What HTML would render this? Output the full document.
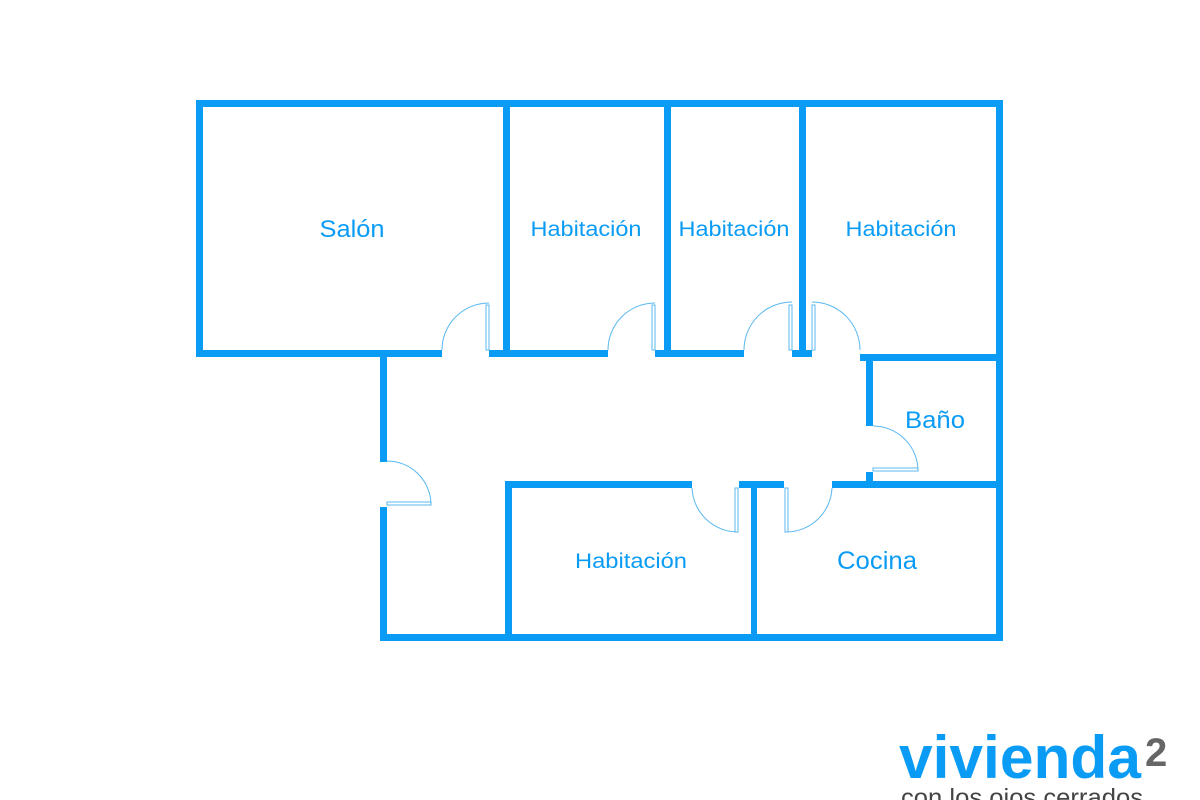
<!DOCTYPE html>
<html><head><meta charset="utf-8"><style>
html,body{margin:0;padding:0;background:#fff;width:1200px;height:800px;overflow:hidden}
svg{display:block}
</style></head><body>
<svg width="1200" height="800" viewBox="0 0 1200 800" xmlns="http://www.w3.org/2000/svg">
<g fill="#0a9cf5">
<rect x="196" y="100" width="807" height="7"/>
<rect x="196" y="100" width="7" height="257"/>
<rect x="196" y="350" width="246" height="7"/>
<rect x="489" y="350" width="119" height="7"/>
<rect x="655" y="350" width="89" height="7"/>
<rect x="792" y="350" width="20" height="7"/>
<rect x="503" y="100" width="7" height="257"/>
<rect x="664" y="100" width="7" height="257"/>
<rect x="799" y="100" width="7" height="257"/>
<rect x="996" y="100" width="7" height="541"/>
<rect x="860" y="354" width="143" height="7"/>
<rect x="866" y="354" width="7" height="72"/>
<rect x="866" y="472" width="7" height="16"/>
<rect x="505" y="481" width="187" height="7"/>
<rect x="739" y="481" width="45" height="7"/>
<rect x="832" y="481" width="171" height="7"/>
<rect x="505" y="481" width="7" height="160"/>
<rect x="751" y="481" width="6" height="160"/>
<rect x="380" y="634" width="623" height="7"/>
<rect x="380" y="350" width="7" height="112"/>
<rect x="380" y="507" width="7" height="134"/>
</g>
<g fill="none" stroke="#5ab8f0" stroke-width="1">
<rect x="486" y="305" width="3" height="45"/>
<path d="M442 350 A47 47 0 0 1 489 303"/>
<rect x="652" y="305" width="3" height="45"/>
<path d="M608 350 A47 47 0 0 1 655 303"/>
<rect x="789" y="305" width="3" height="45"/>
<path d="M744 350 A48 48 0 0 1 792 302"/>
<rect x="812" y="305" width="3" height="45"/>
<path d="M860 350 A48 48 0 0 0 812 302"/>
<rect x="873" y="468" width="45" height="3"/>
<path d="M873 426 A45 45 0 0 1 918 471"/>
<rect x="387" y="502" width="44" height="3"/>
<path d="M387 461 A44 44 0 0 1 431 505"/>
<rect x="735" y="488" width="3" height="44"/>
<path d="M692 488 A46 46 0 0 0 738 532"/>
<rect x="785" y="488" width="3" height="44"/>
<path d="M832 488 A46 46 0 0 1 786 532"/>
</g>
<g fill="#0a9cf5" font-family="Liberation Sans, sans-serif" text-anchor="middle">
<text x="352" y="237" font-size="24" textLength="65" lengthAdjust="spacingAndGlyphs">Salón</text>
<text x="586" y="236" font-size="21" textLength="111" lengthAdjust="spacingAndGlyphs">Habitación</text>
<text x="734" y="236" font-size="21" textLength="111" lengthAdjust="spacingAndGlyphs">Habitación</text>
<text x="901" y="236" font-size="21" textLength="111" lengthAdjust="spacingAndGlyphs">Habitación</text>
<text x="935" y="428" font-size="24" textLength="60" lengthAdjust="spacingAndGlyphs">Baño</text>
<text x="631" y="568" font-size="21" textLength="112" lengthAdjust="spacingAndGlyphs">Habitación</text>
<text x="877" y="569" font-size="25" textLength="80" lengthAdjust="spacingAndGlyphs">Cocina</text>
</g>
<text x="899" y="778" font-family="Liberation Sans, sans-serif" font-weight="bold" font-size="60" fill="#0a9cf5" textLength="242" lengthAdjust="spacingAndGlyphs">vivienda</text>
<text x="1145" y="766" font-family="Liberation Sans, sans-serif" font-weight="bold" font-size="40" fill="#666">2</text>
<text x="901" y="806" font-family="Liberation Sans, sans-serif" font-size="25" fill="#444" textLength="242" lengthAdjust="spacingAndGlyphs">con los ojos cerrados</text>
</svg>
</body></html>
